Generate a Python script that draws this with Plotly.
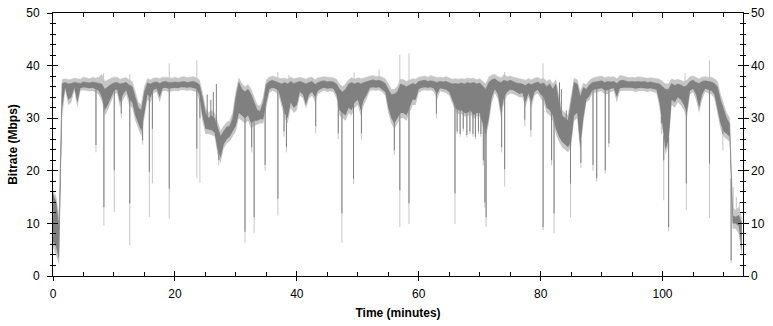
import numpy as np
import plotly.graph_objects as go

# ---- data: body of the bitrate trace, sampled every 0.5 minute (Mbps) ----
dark_hi = [
    15.5, 14, 9, 36.6, 36.8, 36.5, 36.6, 36.8, 36.7, 36.6,
    36.9, 36.8, 36.7, 36.9, 36.8, 36.6, 36.5, 35.5, 36, 36.4,
    36.7, 36.8, 36.5, 36.6, 36.8, 36.3, 36, 34, 32, 31.5,
    35, 36.7, 36.5, 36.8, 36.9, 36.6, 36.9, 37.0, 36.8, 36.8,
    36.9, 36.8, 36.9, 37.0, 36.8, 36.9, 37.0, 36.8, 36.4, 34,
    31, 30, 30.5, 30, 28, 26.5, 27.5, 28.3, 28.5, 30,
    34, 36.8, 35.5, 35, 35.5, 34.5, 33, 31.5, 31.3, 33,
    36.5, 37.0, 37.2, 37.0, 36.8, 36.5, 36.8, 36.5, 37.0, 36.6,
    36.8, 37.0, 36.8, 36.5, 36.8, 37.0, 36.4, 36.8, 37.0, 37.1,
    36.9, 37.0, 36.9, 36.5, 35.5, 35, 35.5, 36.5, 36.8, 36.5,
    36.8, 36.5, 36.8, 37.0, 37.2, 37.3, 37.1, 37.2, 37.0, 36.6,
    35.5, 34.5, 34.6, 35, 36.5, 36.3, 36, 36.3, 36.6, 36.4,
    37.0, 37.1, 37.2, 37.0, 37.1, 37.0, 36.8, 37.0, 36.9, 37.0,
    36.8, 36.5, 36.6, 36.5, 36.7, 36.5, 36.8, 36.6, 36.8, 36.5,
    36.7, 36, 35.5, 36.8, 37.3, 37.5, 37.0, 36.8, 37.2, 37.0,
    37.2, 37.0, 36.7, 36.6, 36.5, 36.2, 36.6, 36.4, 36.7, 36.9,
    36.5, 36.7, 36, 36.5, 35.5, 36.5, 33, 30.5, 30, 29.5,
    33, 36.8, 36.5, 34, 35.8, 35.5, 36.3, 36.8, 36.9, 37.0,
    37.1, 36.8, 37.0, 36.9, 37.0, 36.6, 37.1, 37.2, 37.0, 36.9,
    37.0, 36.9, 37.0, 36.9, 37.0, 36.8, 36.9, 36.8, 36.7, 36.5,
    36, 35.5, 35.5, 36.6, 36.2, 36.5, 36.3, 36, 36.2, 37.0,
    37.2, 36.8, 36.6, 37.0, 37.1, 37.0, 36.9, 36.6, 36, 33.5,
    31.5, 30, 29, 11.5, 11.2, 11.5, 10,
]
dark_lo = [
    6.5, 5.5, 3.2, 32, 35.8, 33.5, 34, 35.8, 33, 35.7,
    35.9, 35.8, 35.7, 35.8, 35.5, 35.2, 34, 31.5, 32.5, 34,
    35.2, 35.5, 33, 34.5, 35.3, 33.5, 33, 30.5, 29, 27.5,
    31, 34.5, 34, 35.4, 35.6, 34, 35.7, 35.8, 35.6, 35.7,
    35.8, 35.7, 35.9, 35.9, 35.8, 35.9, 35.8, 35.6, 34.5, 30.5,
    28, 27.8, 27.7, 27.3, 24, 22.5, 25, 26, 26.5, 27.5,
    28.5, 31, 30.5, 30, 30.5, 29, 29.5, 29.5, 29.8, 29.8,
    33, 35.5, 35.8, 35.6, 35.2, 33, 31, 30, 33, 32,
    32.5, 35, 34.5, 32.5, 34.5, 35, 34, 35.2, 35.6, 35.8,
    35.6, 35.7, 35.6, 34.5, 31.5, 31, 30.5, 32, 31.5, 33,
    33.5, 31.5, 33.5, 34.5, 35.8, 35.9, 35.8, 35.9, 35.5, 35,
    32, 30, 29, 30, 31, 31, 30.5, 32, 33.5, 33.5,
    35.5, 35.8, 35.9, 35.8, 35.9, 35.6, 34.5, 35.7, 35.5, 35.4,
    35, 33.5, 32, 31.5, 31.5, 31, 31, 31.5, 30.5, 31,
    31, 29, 27, 30, 34, 35.5, 34.5, 31, 34, 35,
    35.4, 35.3, 35, 34.6, 34.8, 33, 34.7, 33, 35, 35.4,
    34.5, 34, 32, 31.5, 30.5, 28, 26.5, 25.5, 25, 24.5,
    25.5, 30.5, 31, 24.5, 30, 33.5, 34.2, 35.3, 35.5, 35.6,
    35.7, 35.3, 35.3, 35.6, 35.7, 34, 35.7, 35.8, 35.8, 35.7,
    35.8, 35.6, 35.7, 35.8, 35.7, 35.6, 35.7, 35.5, 35.4, 33,
    28, 24, 26, 33.5, 33, 34, 33.5, 32.5, 31, 35.2,
    35.6, 34.5, 32, 34.5, 35.6, 35.4, 35.2, 34.5, 32, 29,
    27.5, 27, 26.5, 10, 10, 9.5, 4.5,
]
light_hi = [
    16.3, 15, 11, 37.3, 37.5, 37.3, 37.4, 37.6, 37.5, 37.4,
    37.8, 37.6, 37.5, 37.8, 37.6, 37.8, 38.3, 37, 37.2, 37.6,
    37.8, 37.8, 37.4, 37.6, 37.7, 37.3, 37, 35, 33, 32.5,
    36, 37.5, 37.3, 37.6, 37.7, 37.5, 37.8, 37.8, 37.7, 37.6,
    37.8, 37.6, 37.8, 37.9, 37.7, 37.8, 37.9, 37.7, 37.3, 35,
    32, 31, 31.5, 31, 29, 27.5, 28.5, 29.2, 29.5, 31,
    35, 37.6, 36.5, 36, 36.4, 35.5, 34, 32.5, 32.3, 34,
    37.3, 37.8, 38, 37.8, 37.7, 37.5, 37.6, 37.4, 37.8, 37.5,
    37.6, 37.8, 37.6, 37.4, 37.7, 37.8, 37.3, 37.7, 37.8, 37.9,
    37.8, 37.8, 37.7, 37.4, 36.5, 36, 36.5, 37.3, 37.7, 37.4,
    37.7, 37.5, 37.6, 37.8, 38, 38.1, 37.9, 38, 37.8, 37.5,
    36.5, 35.5, 35.5, 36, 37.4, 37.3, 37, 37.2, 37.5, 37.4,
    37.8, 37.9, 38, 37.8, 38.1, 37.9, 37.7, 37.8, 37.7, 37.9,
    37.6, 37.4, 37.5, 37.4, 37.5, 37.4, 37.6, 37.5, 37.6, 37.3,
    37.5, 37, 36.5, 37.8, 38.2, 38.3, 37.9, 37.7, 38.3, 37.9,
    38, 37.8, 37.6, 37.5, 37.4, 37.2, 37.5, 37.3, 37.6, 37.8,
    37.4, 37.6, 37, 37.4, 36.5, 37.3, 34, 31.5, 31, 30.5,
    34, 37.6, 37.3, 35, 36.6, 36.4, 37.2, 37.6, 37.8, 37.9,
    38, 37.7, 37.9, 37.8, 37.9, 37.5, 38.1, 38, 37.8, 37.7,
    37.8, 37.7, 37.9, 37.8, 37.8, 37.6, 37.7, 37.6, 37.5, 37.4,
    37, 36.5, 36.5, 37.5, 37.2, 37.4, 37.2, 37, 37.2, 37.9,
    38, 37.7, 37.5, 37.8, 37.9, 37.8, 37.8, 37.5, 37, 34.5,
    32.5, 31, 30, 13, 12.5, 13, 11,
]
light_lo = [
    5.5, 4, 2, 30, 35.2, 32.5, 33, 35.2, 32, 35.2,
    35.3, 35.2, 35.1, 35.2, 34.8, 34.5, 33.2, 30.5, 31.5, 33,
    34.5, 34.8, 32, 33.5, 34.5, 32.5, 32, 29.5, 28, 26.5,
    30, 33.5, 33, 34.8, 35, 33, 35.1, 35.2, 35, 35.1,
    35.2, 35.1, 35.3, 35.3, 35.2, 35.3, 35.2, 35.0, 33.5, 29.5,
    27, 27, 26.8, 26.5, 23, 21.5, 24.2, 25.2, 25.6, 26.5,
    27.5, 30, 29.5, 29, 29.5, 28, 28.5, 28.7, 29, 29,
    32, 34.8, 35.2, 35, 34.5, 32, 30, 29, 32, 31,
    31.5, 34.3, 33.8, 31.8, 33.8, 34.3, 33, 34.6, 35, 35.2,
    35, 35.1, 35, 33.8, 30.5, 30, 29.5, 31, 30.5, 32,
    32.5, 30.5, 32.5, 33.8, 35.2, 35.3, 35.2, 35.3, 35, 34.3,
    31, 29, 28, 29, 30, 30, 29.5, 31, 32.5, 32.5,
    34.8, 35.2, 35.3, 35.2, 35.3, 35, 33.5, 35.1, 34.9, 34.8,
    34.3, 32.8, 31.3, 30.8, 30.8, 30.3, 30.3, 30.8, 29.8, 30.3,
    30.3, 28.3, 26.3, 29, 33, 34.8, 33.5, 30, 33, 34.3,
    34.7, 34.6, 34.3, 34, 34, 32, 34, 32, 34.3, 34.7,
    33.8, 33, 31, 30.5, 29.5, 27, 25.5, 24.5, 24, 23.5,
    24.5, 29.5, 30, 23.5, 29, 33, 33.5, 34.7, 34.9, 35,
    35.1, 34.6, 34.6, 35, 35.1, 33, 35.1, 35.2, 35.2, 35.1,
    35.2, 35, 35.1, 35.2, 35.1, 35, 35.1, 34.9, 34.8, 32,
    27, 23, 25, 32.5, 32, 33, 32.5, 31.5, 30, 34.5,
    35, 33.5, 31, 33.5, 35, 34.8, 34.5, 33.8, 31, 28,
    26.5, 26, 25.5, 9, 9, 8, 3.5,
]

# ---- brief drop-outs: time (min), dark minimum, light minimum (Mbps) ----
dip_time = [7.05, 8.35, 10.05, 11.2, 12.6, 14.7, 15.8, 16.3, 19.07, 23.6,
            24.1, 27.2, 31.5, 32.6, 33.0, 34.8, 36.9, 37.9, 38.3, 43.1,
            46.8, 47.4, 49.3, 50.6, 56.0, 56.9, 58.4, 62.9, 65.95, 66.3,
            66.8, 67.3, 67.9, 68.4, 68.9, 69.3, 69.8, 70.2, 70.6, 70.85,
            71.05, 73.6, 74.1, 77.4, 78.4, 80.4, 81.8, 82.2, 84.9, 86.6,
            88.6, 89.2, 90.6, 91.2, 99.8, 100.2, 101.0, 103.9, 107.7, 109.9,
            111.25]
dip_dark = [24.9, 13.1, 20.1, 30.9, 13.8, 25.8, 19.8, 28, 16.6, 24.2,
            30, 22, 8.4, 24.5, 11.2, 21.1, 14.7, 27.5, 24.5, 28.5,
            27.1, 11.9, 18.5, 27.1, 23.9, 16.3, 13.8, 30.9, 15.7, 27.5,
            27, 28, 26.8, 27.5, 27, 26.5, 27.5, 27, 22, 14,
            11.2, 24.5, 20.3, 29.7, 27.7, 9.3, 22, 11.9, 17.6, 21.5,
            21.1, 18.6, 20.1, 25.2, 29, 22, 9.3, 17.6, 21.4, 27,
            3]
dip_light = [23.5, 9.6, 12.2, 30, 5.8, 25, 11.2, 17.6, 10.9, 18.6,
             17.7, 21, 6.3, 23.5, 8.2, 20, 11.5, 26.5, 23.5, 27.1,
             26, 6.3, 17.5, 26, 23, 9.3, 9.9, 30, 9.9, 27,
             26.5, 27.5, 26.3, 27, 26.5, 26, 27, 26.5, 21, 13,
             9.3, 23.5, 17.0, 28.5, 26.5, 8.7, 21, 8.1, 11.2, 20.5,
             20, 18, 19.5, 24.5, 27, 14.4, 8.5, 12.5, 11, 23.9,
             2.5]

# ---- brief peaks: time (min), peak (Mbps) ----
peak_time = [8.3, 12.6, 19.07, 23.6, 36.9, 38.7, 49.4, 53.5, 56.9, 58.4,
             74.1, 80.4, 103.7, 107.7, 111.6, 112.1, 112.6]
peak_val = [38.5, 38.4, 40.4, 41, 38.8, 38.2, 38.7, 39.3, 42, 42.3,
            38.8, 40.4, 38.6, 41, 16.9, 15, 14]
dark_peak_time = [25.3, 25.9, 26.3, 26.8, 83.1, 83.4, 84.2]
dark_peak_val = [34.5, 33.5, 35, 36.5, 36.8, 35.5, 31.5]

time = np.arange(len(dark_hi)) * 0.5

DARK = "#808080"
LIGHT = "#c6c6c6"
FONT = "Liberation Sans, Arial, sans-serif"

fig = go.Figure()


def band(lo, hi, color):
    fig.add_trace(go.Scatter(x=time, y=lo, mode="lines",
                             line=dict(width=0, color=color),
                             hoverinfo="skip", showlegend=False))
    fig.add_trace(go.Scatter(x=time, y=hi, mode="lines",
                             line=dict(width=0.6, color=color),
                             fill="tonexty", fillcolor=color,
                             hoverinfo="skip", showlegend=False))


def segments(ts, y0, y1, color, width=1):
    xs, ys = [], []
    for t, a, b in zip(ts, y0, y1):
        xs += [t, t, None]
        ys += [a, b, None]
    fig.add_trace(go.Scatter(x=xs, y=ys, mode="lines",
                             line=dict(width=width, color=color),
                             hoverinfo="skip", showlegend=False))


dark_lo_at = np.interp(dip_time, time, dark_lo) + 0.3
light_hi_at = np.interp(peak_time, time, light_hi) - 0.3
dark_hi_at = np.interp(dark_peak_time, time, dark_hi) - 0.3

# light layer
band(light_lo, light_hi, LIGHT)
segments(dip_time, dip_light, dark_lo_at, LIGHT)
segments(peak_time, light_hi_at, peak_val, LIGHT)
# dark layer
band(dark_lo, dark_hi, DARK)
segments(dip_time, dip_dark, dark_lo_at, DARK)
segments(dark_peak_time, dark_hi_at, dark_peak_val, DARK)

# helper (empty) traces that register the overlay axes
fig.add_trace(go.Scatter(x=[None], y=[None], xaxis="x2", yaxis="y3",
                         showlegend=False, hoverinfo="skip"))
fig.add_trace(go.Scatter(x=[None], y=[None], xaxis="x", yaxis="y2",
                         showlegend=False, hoverinfo="skip"))

tickfont = dict(family=FONT, size=12, color="black")
titlefont = dict(family=FONT, size=12, color="black", weight="bold")
XR = [0, 113.2]
YR = [0, 50]

fig.update_layout(
    width=773, height=326,
    margin=dict(l=53, r=30, t=13, b=50),
    paper_bgcolor="white", plot_bgcolor="white",
    showlegend=False,
    xaxis=dict(range=XR, tickmode="linear", tick0=0, dtick=20,
               ticks="outside", ticklen=4, tickcolor="black",
               showline=True, linecolor="black", linewidth=1,
               showgrid=False, zeroline=False, tickfont=tickfont,
               ticklabelstandoff=3, automargin=False,
               title=dict(text="Time (minutes)", font=titlefont, standoff=8)),
    xaxis2=dict(range=XR, overlaying="x", anchor="y3", side="bottom",
                tickmode="linear", tick0=0, dtick=20,
                ticks="inside", ticklen=5, tickcolor="black",
                minor=dict(dtick=5, tick0=0, ticks="inside", ticklen=4,
                           tickcolor="black"),
                showline=True, linecolor="black", linewidth=1, mirror="ticks",
                showticklabels=False, showgrid=False, zeroline=False,
                automargin=False),
    yaxis=dict(range=YR, tickmode="linear", tick0=0, dtick=10,
               ticks="outside", ticklen=5, tickcolor="black",
               minor=dict(dtick=2, tick0=0, ticks="outside", ticklen=2,
                          tickcolor="black"),
               showline=True, linecolor="black", linewidth=1, mirror="ticks",
               showgrid=False, zeroline=False, tickfont=tickfont,
               ticklabelstandoff=5, automargin=False,
               title=dict(text="Bitrate (Mbps)", font=titlefont, standoff=6)),
    yaxis2=dict(range=YR, overlaying="y", side="right", anchor="x",
                tickmode="linear", tick0=0, dtick=10, ticks="",
                showline=False, showgrid=False, zeroline=False,
                tickfont=tickfont, ticklabelstandoff=7, automargin=False),
    yaxis3=dict(range=YR, overlaying="y", anchor="x2", side="left",
                tickmode="linear", tick0=0, dtick=10,
                ticks="inside", ticklen=5, tickcolor="black",
                minor=dict(dtick=2, tick0=0, ticks="inside", ticklen=3,
                           tickcolor="black"),
                showline=True, linecolor="black", linewidth=1, mirror="ticks",
                showticklabels=False, showgrid=False, zeroline=False,
                automargin=False),
)

fig.write_html("out.html",
               config={"displayModeBar": False, "staticPlot": True},
               post_script="document.body.style.margin='0px';"
                           "document.body.style.overflow='hidden';")
